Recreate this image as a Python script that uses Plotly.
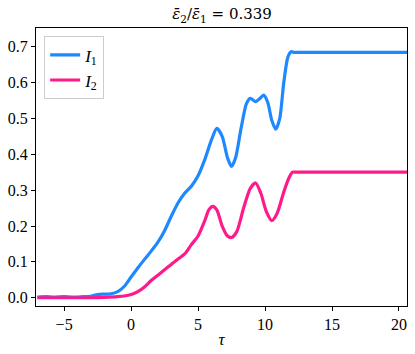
import plotly.graph_objects as go

tau_1 = [-7.0, -6.3, -5.8, -5.0, -4.3, -3.6, -3.0, -2.5, -2.0, -1.5, -1.0, -0.5,
         0.0, 0.5, 1.0, 1.5, 2.0, 2.5, 3.0, 3.5, 4.0, 4.5, 5.0, 5.5, 6.0, 6.4,
         6.8, 7.2, 7.5, 7.8, 8.2, 8.6, 8.9, 9.3, 9.6, 9.9, 10.2, 10.5, 10.8,
         11.1, 11.4, 11.7, 11.95, 12.15, 12.4, 13.0, 15.0, 18.0, 20.6]
I1 = [0.002, 0.003, 0.002, 0.003, 0.002, 0.003, 0.004, 0.009, 0.010, 0.011, 0.017, 0.032,
      0.058, 0.083, 0.107, 0.130, 0.155, 0.187, 0.227, 0.264, 0.291, 0.311, 0.340, 0.385, 0.440, 0.472,
      0.450, 0.390, 0.366, 0.390, 0.470, 0.540, 0.556, 0.547, 0.555, 0.565, 0.545, 0.495, 0.470,
      0.500, 0.600, 0.670, 0.686, 0.684, 0.684, 0.684, 0.684, 0.684, 0.684]

tau_2 = [-7.0, -5.0, -3.0, -2.0, -1.0, -0.5, 0.0, 0.5, 1.0, 1.5, 2.0, 2.5, 3.0, 3.5,
         4.0, 4.5, 5.0, 5.5, 5.8, 6.1, 6.4, 6.8, 7.2, 7.5, 7.9, 8.4, 8.9, 9.3, 9.7,
         10.1, 10.5, 10.9, 11.4, 11.8, 12.05, 12.3, 12.6, 13.5, 16.0, 20.6]
I2 = [0.0, 0.0, 0.0, 0.001, 0.003, 0.005, 0.009, 0.017, 0.030, 0.048, 0.063, 0.078, 0.093, 0.108,
      0.122, 0.148, 0.172, 0.215, 0.245, 0.255, 0.245, 0.200, 0.172, 0.168, 0.185, 0.250, 0.305, 0.320, 0.290,
      0.240, 0.215, 0.235, 0.295, 0.335, 0.350, 0.350, 0.350, 0.350, 0.350, 0.350]

x_ticks = [-5, 0, 5, 10, 15, 20]
y_ticks = [0.0, 0.1, 0.2, 0.3, 0.4, 0.5, 0.6, 0.7]

FONT = "Liberation Serif"

fig = go.Figure()
fig.add_trace(go.Scatter(x=tau_1, y=I1, mode="lines", name="<i>I</i><sub>1</sub>",
                         line=dict(color="#1E88FF", width=3.2, shape="spline", smoothing=0.7)))
fig.add_trace(go.Scatter(x=tau_2, y=I2, mode="lines", name="<i>I</i><sub>2</sub>",
                         line=dict(color="#FF1A8C", width=3.2, shape="spline", smoothing=0.7)))

axis_common = dict(showline=True, linecolor="black", linewidth=1, mirror=True,
                   ticks="outside", ticklen=4, tickcolor="black", tickwidth=1,
                   showgrid=False, zeroline=False, automargin=False,
                   tickfont=dict(family=FONT, size=16, color="black"))

fig.update_layout(
    width=415, height=354,
    margin=dict(l=36, r=8, t=28, b=48),
    paper_bgcolor="white", plot_bgcolor="white",
    title=dict(text="<i>ε̄</i><sub>2</sub>/<i>ε̄</i><sub>1</sub> = 0.339",
               x=0.535, xanchor="center", y=0.96, yanchor="middle",
               font=dict(family="DejaVu Serif", size=15, color="black")),
    xaxis=dict(range=[-7.1, 20.6], tickvals=x_ticks,
               ticktext=["−5", "0", "5", "10", "15", "20"],
               title=dict(text="<i>τ</i>", font=dict(family=FONT, size=17, color="black"), standoff=0),
               ticklabelstandoff=0,
               **axis_common),
    yaxis=dict(range=[-0.023, 0.752], tickvals=y_ticks,
               ticktext=[f"{v:.1f}" for v in y_ticks], **axis_common),
    legend=dict(x=0.022, y=0.97, xanchor="left", yanchor="top",
                bgcolor="rgba(255,255,255,0.85)", bordercolor="#cccccc", borderwidth=1,
                font=dict(family=FONT, size=17, color="black"), tracegroupgap=0),
    showlegend=True,
)

fig.write_html("out.html", config={"displayModeBar": False},
               post_script="document.body.style.margin='0';document.body.style.overflow='hidden';")
